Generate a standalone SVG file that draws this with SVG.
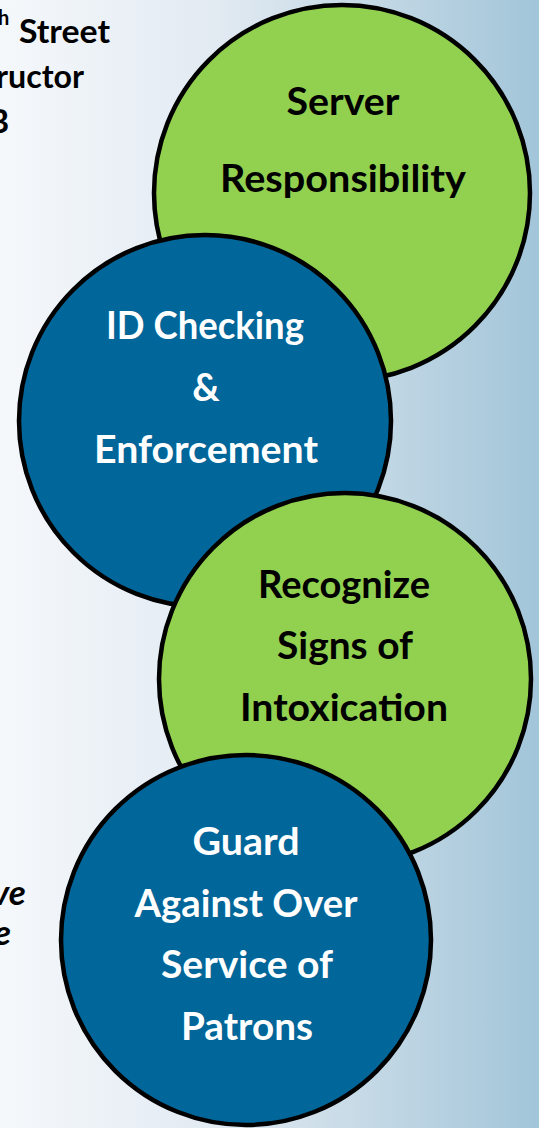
<svg xmlns="http://www.w3.org/2000/svg" width="539" height="1128" viewBox="0 0 539 1128">
  <defs>
    <linearGradient id="bg" x1="0" y1="0" x2="1" y2="0">
      <stop offset="0" stop-color="#f5f8fb"/>
      <stop offset="0.4" stop-color="#e2eaf2"/>
      <stop offset="0.7" stop-color="#c3d8e5"/>
      <stop offset="1" stop-color="#a2c5d9"/>
    </linearGradient>
  </defs>
  <style>
    .green { fill: #92d050; stroke: #000; stroke-width: 4.5; }
    .blue { fill: #016699; stroke: #000; stroke-width: 4.5; }
    .lbl { font-family: Lato, "Open Sans", sans-serif; font-weight: bold; font-size: 38px; text-anchor: middle; }
    .dark { fill: #000; }
    .light { fill: #fff; }
    .side { font-family: Lato, "Open Sans", sans-serif; font-weight: bold; font-size: 32px; fill: #000; }
    .sup { font-size: 20px; }
    .it { font-style: italic; font-size: 35px; }
  </style>
  <rect x="0" y="0" width="539" height="1128" fill="url(#bg)"/>
  <g id="side-text">
    <text class="side sup" x="-2" y="25">h</text>
    <text class="side" x="19" y="43" textLength="91" lengthAdjust="spacingAndGlyphs">Street</text>
    <text class="side" x="-4" y="88" textLength="88" lengthAdjust="spacingAndGlyphs">ructor</text>
    <text class="side" x="-12" y="133">B</text>
    <text class="side it" x="-8" y="905">ve</text>
    <text class="side it" x="-6" y="945">e</text>
  </g>
  <g id="connectors"></g>
  <g id="node-server">
    <circle class="green" cx="342" cy="193" r="188"/>
    <text class="lbl dark" x="343" y="115" textLength="113" lengthAdjust="spacingAndGlyphs">Server</text>
    <text class="lbl dark" x="343" y="192" textLength="246" lengthAdjust="spacingAndGlyphs">Responsibility</text>
  </g>
  <g id="node-id">
    <circle class="blue" cx="205" cy="421" r="186"/>
    <text class="lbl light" x="205" y="339" textLength="198" lengthAdjust="spacingAndGlyphs">ID Checking</text>
    <text class="lbl light" x="206" y="401">&amp;</text>
    <text class="lbl light" x="206" y="463" textLength="224" lengthAdjust="spacingAndGlyphs">Enforcement</text>
  </g>
  <g id="node-recognize">
    <circle class="green" cx="345" cy="679" r="186"/>
    <text class="lbl dark" x="344" y="598" textLength="172" lengthAdjust="spacingAndGlyphs">Recognize</text>
    <text class="lbl dark" x="345" y="659" textLength="136" lengthAdjust="spacingAndGlyphs">Signs of</text>
    <text class="lbl dark" x="344" y="721" textLength="208" lengthAdjust="spacingAndGlyphs">Intoxication</text>
  </g>
  <g id="node-guard">
    <circle class="blue" cx="246" cy="940" r="185"/>
    <text class="lbl light" x="246" y="855" textLength="107" lengthAdjust="spacingAndGlyphs">Guard</text>
    <text class="lbl light" x="246" y="917" textLength="223" lengthAdjust="spacingAndGlyphs">Against Over</text>
    <text class="lbl light" x="247" y="978" textLength="172" lengthAdjust="spacingAndGlyphs">Service of</text>
    <text class="lbl light" x="247" y="1040" textLength="132" lengthAdjust="spacingAndGlyphs">Patrons</text>
  </g>
</svg>
